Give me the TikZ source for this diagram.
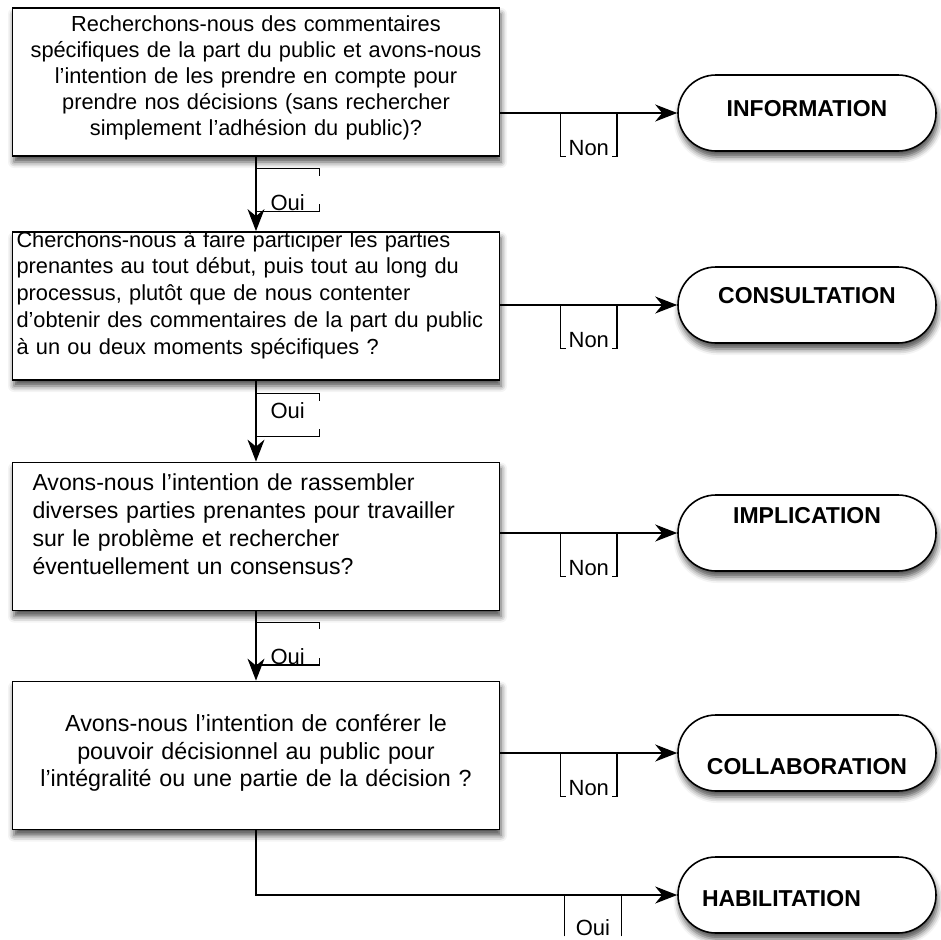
\documentclass[tikz,border=0pt]{standalone}
\usepackage{fontspec}
\setmainfont{Liberation Sans}
\usetikzlibrary{positioning, arrows.meta, shadows.blur}

\begin{document}
\begin{tikzpicture}[
    x=1pt, y=-1pt,
    qbox/.style={rectangle, draw, line width=1.8pt, fill=white, minimum width=487pt, minimum height=148pt, inner xsep=4pt, inner ysep=0pt, text width=479pt, text height=0pt, blur shadow={shadow xshift=1.5pt, shadow yshift=-6pt, shadow blur radius=6pt, shadow opacity=70}},
    term/.style={rectangle, draw, rounded corners=38pt, line width=1.6pt, fill=white, minimum width=258pt, minimum height=76pt, inner sep=0pt, font=\fontsize{23}{27}\selectfont\bfseries, blur shadow={shadow xshift=1.5pt, shadow yshift=-6pt, shadow blur radius=6pt, shadow opacity=70}},
    tag/.style={minimum width=55pt, minimum height=42pt, inner sep=0pt, text height=42pt, text depth=0pt, font=\fontsize{22}{26}\selectfont},
    vtag/.style={tag, minimum width=62pt, minimum height=41pt, text height=41pt},
    brk/.style={line width=1.3pt},
    arrow/.style={line width=1.4pt, -{Stealth[length=22pt, width=17pt, inset=7pt]}}
]
\useasboundingbox (0,0) rectangle (940,940);

% Question boxes
\node[qbox, align=center, font=\fontsize{21.8}{26}\selectfont, text depth=102pt] (q1) at (256,82) {Recherchons-nous des commentaires\\ spécifiques de la part du public et avons-nous\\ l’intention de les prendre en compte pour\\ prendre nos décisions (sans rechercher\\ simplement l’adhésion du public)?};
\node[qbox, align=left, font=\fontsize{21.8}{26.8}\selectfont, text depth=118pt] (q2) at (256,306) {Cherchons-nous à faire participer les parties\\ prenantes au tout début, puis tout au long du\\ processus, plutôt que de nous contenter\\ d’obtenir des commentaires de la part du public\\ à un ou deux moments spécifiques ?};
\node[qbox, align=left, text width=447pt, font=\fontsize{23.1}{28.3}\selectfont, text depth=93pt] (q3) at (256,536.5) {Avons-nous l’intention de rassembler\\ diverses parties prenantes pour travailler\\ sur le problème et rechercher\\ éventuellement un consensus?};
\node[qbox, align=center, font=\fontsize{23.3}{27.5}\selectfont, text depth=48pt] (q4) at (256,755.5) {Avons-nous l’intention de conférer le\\ pouvoir décisionnel au public pour\\ l’intégralité ou une partie de la décision ?};

% Outcomes
\node[term, text height=6.4pt, text depth=0pt] (info) at (807,113) {INFORMATION};
\node[term, text height=0pt, text depth=3.6pt] (consult) at (807,305) {CONSULTATION};
\node[term, text height=0pt, text depth=19.6pt] (implic) at (807,533) {IMPLICATION};
\node[term, text height=42.4pt, text depth=0pt] (collab) at (807,753) {COLLABORATION};
\node[term, text height=22.4pt, text depth=0pt, text width=210pt, align=left] (habil) at (807,895) {HABILITATION};

% Non branches
\draw[arrow] (q1.east |- info) -- node[tag, anchor=north] (n1) {Non} (info);
\draw[arrow] (q2.east |- consult) -- node[tag, anchor=north] (n2) {Non} (consult);
\draw[arrow] (q3.east |- implic) -- node[tag, anchor=north] (n3) {Non} (implic);
\draw[arrow] (q4.east |- collab) -- node[tag, anchor=north] (n4) {Non} (collab);

% Oui branches
\draw[arrow] (q1) -- node[vtag, anchor=north west, pos=.16] (o1) {Oui} (q2);
\draw[arrow] (q2) -- node[vtag, anchor=north west, pos=.16, text height=6pt] (o2) {Oui} (q3);
\draw[arrow] (q3) -- node[vtag, anchor=north west, pos=.16] (o3) {Oui} (q4);
\draw[arrow] (q4.south) |- node[tag, anchor=north, pos=.9, minimum height=40pt, text height=40pt] (o4) {Oui} (habil.west);

% Brackets round the labels
\draw[brk] ([xshift=5pt]n1.south west) -- (n1.south west) -- (n1.north west);
\draw[brk] ([xshift=-5pt]n1.south east) -- (n1.south east) -- (n1.north east);
\draw[brk] ([xshift=5pt]n2.south west) -- (n2.south west) -- (n2.north west);
\draw[brk] ([xshift=-5pt]n2.south east) -- (n2.south east) -- (n2.north east);
\draw[brk] ([xshift=5pt]n3.south west) -- (n3.south west) -- (n3.north west);
\draw[brk] ([xshift=-5pt]n3.south east) -- (n3.south east) -- (n3.north east);
\draw[brk] ([xshift=5pt]n4.south west) -- (n4.south west) -- (n4.north west);
\draw[brk] ([xshift=-5pt]n4.south east) -- (n4.south east) -- (n4.north east);
\draw[brk] (o4.south west) -- (o4.north west);
\draw[brk] (o4.south east) -- (o4.north east);

\draw[brk] (o1.north west) -- (o1.north east) -- ([yshift=-7pt]o1.north east);
\draw[brk] (o1.south west) -- (o1.south east) -- ([yshift=7pt]o1.south east);
\draw[brk] (o2.north west) -- (o2.north east) -- ([yshift=-7pt]o2.north east);
\draw[brk] (o2.south west) -- (o2.south east) -- ([yshift=7pt]o2.south east);
\draw[brk] (o3.north west) -- (o3.north east) -- ([yshift=-7pt]o3.north east);
\draw[brk] (o3.south west) -- (o3.south east) -- ([yshift=7pt]o3.south east);

\end{tikzpicture}
\end{document}
